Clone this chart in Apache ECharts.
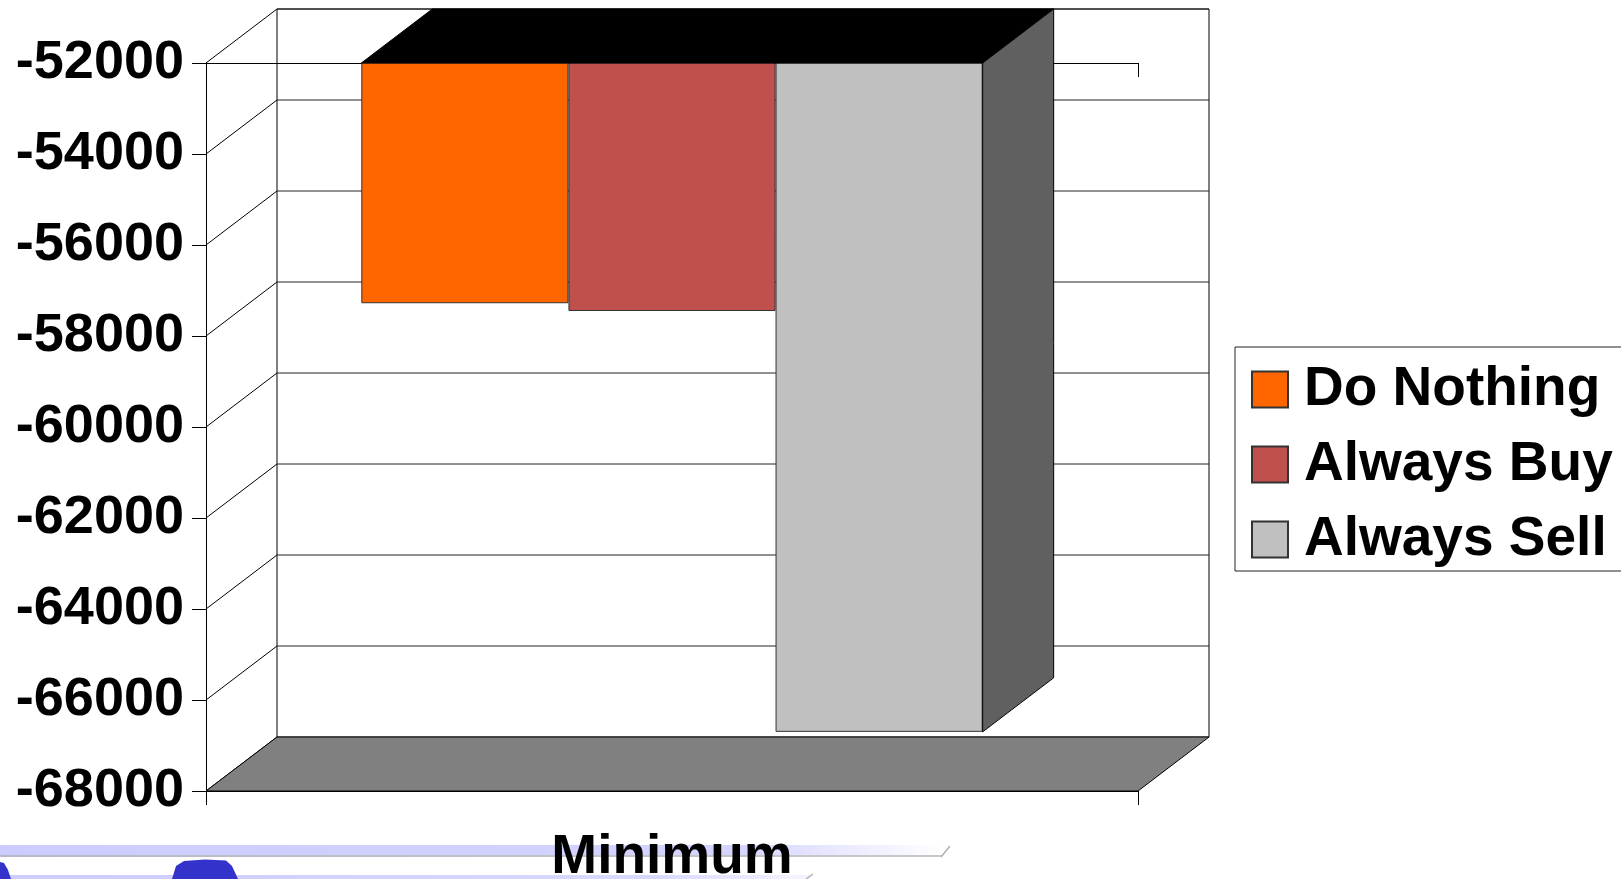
<!DOCTYPE html>
<html>
<head>
<meta charset="utf-8">
<script src="https://cdn.jsdelivr.net/npm/echarts@6/dist/echarts.min.js"></script>
<style>
  html, body { margin: 0; padding: 0; background: #ffffff; }
  #chart { width: 1621px; height: 879px; }
</style>
</head>
<body>
<div id="chart"></div>
<script>
// ---- data ----
const categories = ['Minimum'];
const seriesNames = ['Do Nothing', 'Always Buy', 'Always Sell'];
const doNothing = [-57280];
const alwaysBuy = [-57450];
const alwaysSell = [-66700];
const yMin = -68000;
const yMax = -52000;
const yStep = 2000;

// ---- style constants ----
const FONT = '"Liberation Sans", Arial, sans-serif';
const COLORS = ['#FF6600', '#C0504D', '#C0C0C0'];
const DX = 71, DY = 54;          // 3D depth offset in pixels
const CAT_GAP = 1 / 3;           // barCategoryGap fraction

const chart = echarts.init(document.getElementById('chart'), null, { renderer: 'canvas' });

function renderWalls(params, api) {
  const cs = params.coordSys;
  const L = cs.x, R = cs.x + cs.width, T = cs.y, B = cs.y + cs.height;
  const ls = { stroke: '#000', lineWidth: 1, fill: null };
  const children = [];
  children.push({ type: 'polyline', shape: { points: [[L + DX, B - DY], [L + DX, T - DY], [R + DX, T - DY], [R + DX, B - DY]] }, style: ls });
  for (let v = yMin; v <= yMax; v += yStep) {
    const y = api.coord([0, v])[1];
    children.push({ type: 'line', shape: { x1: L + DX, y1: y - DY, x2: R + DX, y2: y - DY }, style: { stroke: '#222', lineWidth: 1 } });
    children.push({ type: 'line', shape: { x1: L, y1: y, x2: L + DX, y2: y - DY }, style: { stroke: '#000', lineWidth: 1 } });
  }
  children.push({ type: 'polygon', shape: { points: [[L, B], [R, B], [R + DX, B - DY], [L + DX, B - DY]] }, style: { fill: '#808080', stroke: '#000', lineWidth: 1 } });
  return { type: 'group', children };
}

function renderFaces(params, api) {
  const idx = api.value(0);
  const top = api.coord([idx, yMax]);
  const endY = api.coord([idx, api.value(1)])[1];
  const bw = api.size([1, 0])[0];
  const gw = bw * (1 - CAT_GAP);
  const gL = top[0] - gw / 2, gR = top[0] + gw / 2;
  const yT = top[1];
  return {
    type: 'group',
    children: [
      { type: 'polygon', shape: { points: [[gL, yT], [gR, yT], [gR + DX, yT - DY], [gL + DX, yT - DY]] }, style: { fill: '#000', stroke: '#000', lineWidth: 1 } },
      { type: 'polygon', shape: { points: [[gR, yT], [gR + DX, yT - DY], [gR + DX, endY - DY], [gR, endY]] }, style: { fill: '#606060', stroke: '#000', lineWidth: 1 } }
    ]
  };
}

const barValues = [doNothing, alwaysBuy, alwaysSell];

const option = {
  animation: false,
  backgroundColor: '#ffffff',
  textStyle: { fontFamily: FONT },
  grid: { left: 206, top: 63, width: 932, height: 728, containLabel: false, outerBoundsMode: 'none' },
  legend: {
    orient: 'vertical',
    left: 1235,
    top: 347,
    data: seriesNames,
    backgroundColor: '#ffffff',
    borderColor: '#222',
    borderWidth: 1,
    borderRadius: 0,
    padding: [15, 80, 4, 16],
    itemGap: 20,
    itemWidth: 36,
    itemHeight: 36,
    icon: 'rect',
    selectedMode: false,
    textStyle: { fontFamily: FONT, fontSize: 55, fontWeight: 'bold', color: '#000', padding: [0, 0, 0, 11] }
  },
  xAxis: [
    {
      type: 'category',
      data: categories,
      position: 'bottom',
      axisLine: { show: true, lineStyle: { color: '#000', width: 1 } },
      axisTick: { show: true, alignWithLabel: false, length: 14, lineStyle: { color: '#000' } },
      axisLabel: { fontFamily: FONT, fontSize: 55, fontWeight: 'bold', color: '#000', margin: 39 },
      splitLine: { show: false }
    },
    {
      type: 'category',
      data: categories,
      position: 'top',
      axisLine: { show: true, onZero: false, lineStyle: { color: '#000', width: 1 } },
      axisTick: { show: true, inside: true, alignWithLabel: false, length: 14, lineStyle: { color: '#000' } },
      axisLabel: { show: false },
      splitLine: { show: false }
    }
  ],
  yAxis: {
    type: 'value',
    min: yMin,
    max: yMax,
    interval: yStep,
    axisLine: { show: true, lineStyle: { color: '#000', width: 1 } },
    axisTick: { show: true, length: 14, lineStyle: { color: '#000' } },
    axisLabel: { fontFamily: FONT, fontSize: 54, fontWeight: 'bold', color: '#000', margin: 22, padding: [6, 0, 0, 0], formatter: (v) => String(v) },
    splitLine: { show: false }
  },
  graphic: [
    { type: 'rect', z: -1, silent: true, shape: { x: 0, y: 845, width: 945, height: 10 },
      style: { fill: new echarts.graphic.LinearGradient(0, 0, 1, 0, [{ offset: 0, color: '#CCCCFF' }, { offset: 0.78, color: '#D4D4FF' }, { offset: 1, color: '#FFFFFF' }]) } },
    { type: 'rect', z: -1, silent: true, shape: { x: 0, y: 855, width: 942, height: 2 },
      style: { fill: new echarts.graphic.LinearGradient(0, 0, 1, 0, [{ offset: 0, color: '#B8B8C8' }, { offset: 1, color: '#C8C8C8' }]) } },
    { type: 'line', z: -1, silent: true, shape: { x1: 941, y1: 857, x2: 950, y2: 846 }, style: { stroke: '#B0B0B0', lineWidth: 1.5 } },
    { type: 'rect', z: -1, silent: true, shape: { x: 0, y: 875, width: 810, height: 4 },
      style: { fill: new echarts.graphic.LinearGradient(0, 0, 1, 0, [{ offset: 0, color: '#CCCCFF' }, { offset: 0.8, color: '#D8D8FF' }, { offset: 1, color: '#F4F4FF' }]) } },
    { type: 'line', z: -1, silent: true, shape: { x1: 806, y1: 879, x2: 813, y2: 874 }, style: { stroke: '#B0B0B0', lineWidth: 1.5 } },
    { type: 'polygon', z: -1, silent: true, shape: { points: [[0, 879], [0, 862], [4, 863], [8, 870], [11, 879]] }, style: { fill: '#3333CC' } },
    { type: 'polygon', z: -1, silent: true, shape: { points: [[172, 879], [176, 866], [184, 861], [205, 859.5], [226, 860.5], [232, 866], [238, 879]] }, style: { fill: '#3333CC' } }
  ],
  series: [
    {
      type: 'custom',
      name: 'walls',
      z: 1,
      silent: true,
      clip: false,
      xAxisIndex: 0,
      renderItem: renderWalls,
      data: categories.map((c, i) => [i, yMax])
    },
    ...seriesNames.map((name, k) => ({
      type: 'bar',
      name: name,
      z: 2,
      xAxisIndex: 0,
      barGap: '0%',
      barCategoryGap: (CAT_GAP * 100).toFixed(2) + '%',
      itemStyle: { color: COLORS[k], borderColor: '#333', borderWidth: 1 },
      data: barValues[k]
    })),
    {
      type: 'custom',
      name: 'faces',
      z: 3,
      silent: true,
      clip: false,
      xAxisIndex: 0,
      renderItem: renderFaces,
      data: categories.map((c, i) => [i, alwaysSell[i]])
    }
  ]
};

chart.setOption(option);
</script>
</body>
</html>
